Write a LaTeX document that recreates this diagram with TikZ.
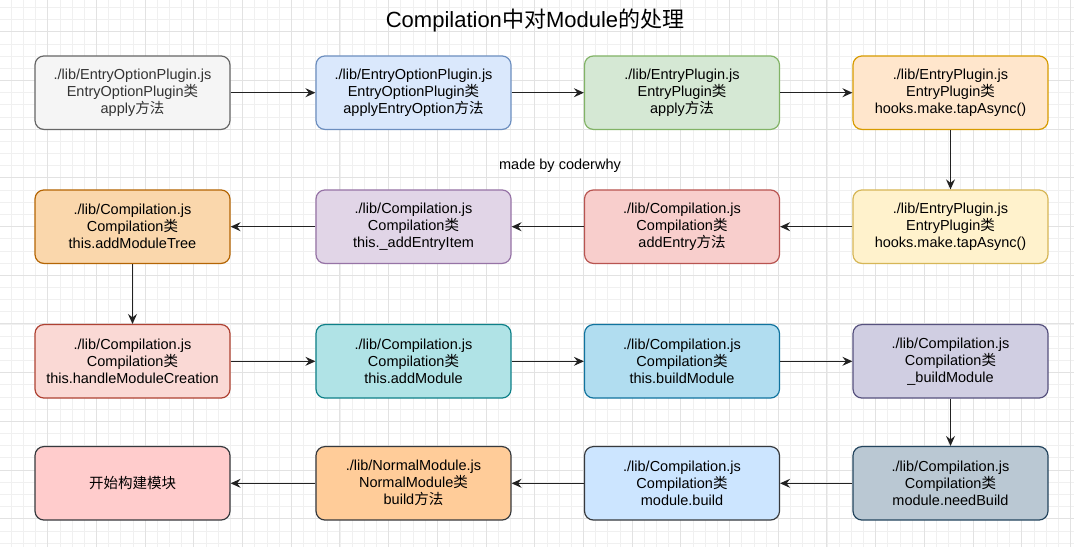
\documentclass[tikz,border=0pt]{standalone}
\usepackage{fontspec}
\setmainfont{Liberation Sans}
\newfontfamily\cjk{Noto Sans CJK SC}
\usetikzlibrary{arrows.meta}

\definecolor{gridlight}{HTML}{F0F0F0}
\definecolor{griddark}{HTML}{E2E2E2}
\definecolor{arrowgray}{HTML}{222222}
\definecolor{textgray}{HTML}{333333}
\definecolor{grayfill}{HTML}{F5F5F5}   \definecolor{grayline}{HTML}{666666}
\definecolor{bluefill}{HTML}{DAE8FC}   \definecolor{blueline}{HTML}{6C8EBF}
\definecolor{greenfill}{HTML}{D5E8D4}  \definecolor{greenline}{HTML}{82B366}
\definecolor{orangefill}{HTML}{FFE6CC} \definecolor{orangeline}{HTML}{D79B00}
\definecolor{yellowfill}{HTML}{FFF2CC} \definecolor{yellowline}{HTML}{D6B656}
\definecolor{redfill}{HTML}{F8CECC}    \definecolor{redline}{HTML}{B85450}
\definecolor{purplefill}{HTML}{E1D5E7} \definecolor{purpleline}{HTML}{9673A6}
\definecolor{amberfill}{HTML}{FAD7AC}  \definecolor{amberline}{HTML}{B46504}
\definecolor{pinkfill}{HTML}{FAD9D5}   \definecolor{pinkline}{HTML}{AE4132}
\definecolor{tealfill}{HTML}{B0E3E6}   \definecolor{tealline}{HTML}{0E8088}
\definecolor{cyanfill}{HTML}{B1DDF0}   \definecolor{cyanline}{HTML}{10739E}
\definecolor{lilacfill}{HTML}{D0CEE2}  \definecolor{lilacline}{HTML}{56517E}
\definecolor{slatefill}{HTML}{BAC8D3}  \definecolor{slateline}{HTML}{23445D}
\definecolor{skyfill}{HTML}{CCE5FF}    \definecolor{darkline}{HTML}{36393D}
\definecolor{peachfill}{HTML}{FFCC99}
\definecolor{rosefill}{HTML}{FFCCCC}

\newcommand\zh[1]{{\cjk #1}}

\tikzset{
  box/.style={draw, rounded corners=9pt, minimum width=195pt, minimum height=73.5pt,
    align=center, inner sep=0pt, line width=1.2pt, font=\fontsize{14.5}{17}\selectfont},
  flow/.style={-{Stealth[length=10pt,width=9pt,inset=3.5pt]}, line width=1.1pt, draw=arrowgray},
  gridminor/.style={draw=gridlight, line width=0.7pt},
  gridmajor/.style={draw=griddark, line width=0.9pt}
}

\begin{document}
\begin{tikzpicture}[x=1pt,y=-1pt]
  \useasboundingbox (0,0) rectangle (1074,547);
  \fill[white] (0,0) rectangle (1074,547);
  % background grid
  \foreach \i in {1,...,88}
    \draw[gridminor] ({-1+12.175*\i},0) -- ({-1+12.175*\i},547);
  \foreach \j in {1,...,46}
    \draw[gridminor] (0,{-17+12.175*\j}) -- (1074,{-17+12.175*\j});
  \foreach \i in {1,...,22}
    \draw[gridmajor] ({-1+48.7*\i},0) -- ({-1+48.7*\i},547);
  \foreach \j in {1,...,11}
    \draw[gridmajor] (0,{-17+48.7*\j}) -- (1074,{-17+48.7*\j});

  \node[font=\fontsize{22}{26}\selectfont] (title) at (535,20.5)
    {Compilation\zh{中对}Module\zh{的处理}};
  \node[font=\fontsize{14.5}{17}\selectfont] (credit) at (560,166) {made by coderwhy};

  % row 1
  \node[box, fill=grayfill, draw=grayline, text=textgray] (opt) at (132.5,92.7)
    {./lib/EntryOptionPlugin.js\\EntryOptionPlugin\zh{类}\\apply\zh{方法}};
  \node[box, fill=bluefill, draw=blueline] (optapply) at (413.5,92.7)
    {./lib/EntryOptionPlugin.js\\EntryOptionPlugin\zh{类}\\applyEntryOption\zh{方法}};
  \node[box, fill=greenfill, draw=greenline] (entry) at (682,92.7)
    {./lib/EntryPlugin.js\\EntryPlugin\zh{类}\\apply\zh{方法}};
  \node[box, fill=orangefill, draw=orangeline] (hooka) at (950.5,92.7)
    {./lib/EntryPlugin.js\\EntryPlugin\zh{类}\\hooks.make.tapAsync()};
  % row 2
  \node[box, fill=yellowfill, draw=yellowline] (hookb) at (950.5,226.7)
    {./lib/EntryPlugin.js\\EntryPlugin\zh{类}\\hooks.make.tapAsync()};
  \node[box, fill=redfill, draw=redline] (addentry) at (682,226.7)
    {./lib/Compilation.js\\Compilation\zh{类}\\addEntry\zh{方法}};
  \node[box, fill=purplefill, draw=purpleline] (entryitem) at (413.5,226.7)
    {./lib/Compilation.js\\Compilation\zh{类}\\this.\_addEntryItem};
  \node[box, fill=amberfill, draw=amberline] (tree) at (132.5,226.7)
    {./lib/Compilation.js\\Compilation\zh{类}\\this.addModuleTree};
  % row 3
  \node[box, fill=pinkfill, draw=pinkline] (creation) at (132.5,361.3)
    {./lib/Compilation.js\\Compilation\zh{类}\\this.handleModuleCreation};
  \node[box, fill=tealfill, draw=tealline] (addmod) at (413.5,361.3)
    {./lib/Compilation.js\\Compilation\zh{类}\\this.addModule};
  \node[box, fill=cyanfill, draw=cyanline] (buildmod) at (682,361.3)
    {./lib/Compilation.js\\Compilation\zh{类}\\this.buildModule};
  \node[box, fill=lilacfill, draw=lilacline] (ubuildmod) at (950.5,361.3)
    {./lib/Compilation.js\\Compilation\zh{类}\\\_buildModule};
  % row 4
  \node[box, fill=slatefill, draw=slateline] (need) at (950.5,483.3)
    {./lib/Compilation.js\\Compilation\zh{类}\\module.needBuild};
  \node[box, fill=skyfill, draw=darkline] (modbuild) at (682,483.3)
    {./lib/Compilation.js\\Compilation\zh{类}\\module.build};
  \node[box, fill=peachfill, draw=darkline] (normal) at (413.5,483.3)
    {./lib/NormalModule.js\\NormalModule\zh{类}\\build\zh{方法}};
  \node[box, fill=rosefill, draw=darkline] (start) at (132.5,483.3)
    {\zh{开始构建模块}};

  \draw[flow] (opt) -- (optapply);
  \draw[flow] (optapply) -- (entry);
  \draw[flow] (entry) -- (hooka);
  \draw[flow] (hooka) -- (hookb);
  \draw[flow] (hookb) -- (addentry);
  \draw[flow] (addentry) -- (entryitem);
  \draw[flow] (entryitem) -- (tree);
  \draw[flow] (tree) -- (creation);
  \draw[flow] (creation) -- (addmod);
  \draw[flow] (addmod) -- (buildmod);
  \draw[flow] (buildmod) -- (ubuildmod);
  \draw[flow] (ubuildmod) -- (need);
  \draw[flow] (need) -- (modbuild);
  \draw[flow] (modbuild) -- (normal);
  \draw[flow] (normal) -- (start);
\end{tikzpicture}
\end{document}
